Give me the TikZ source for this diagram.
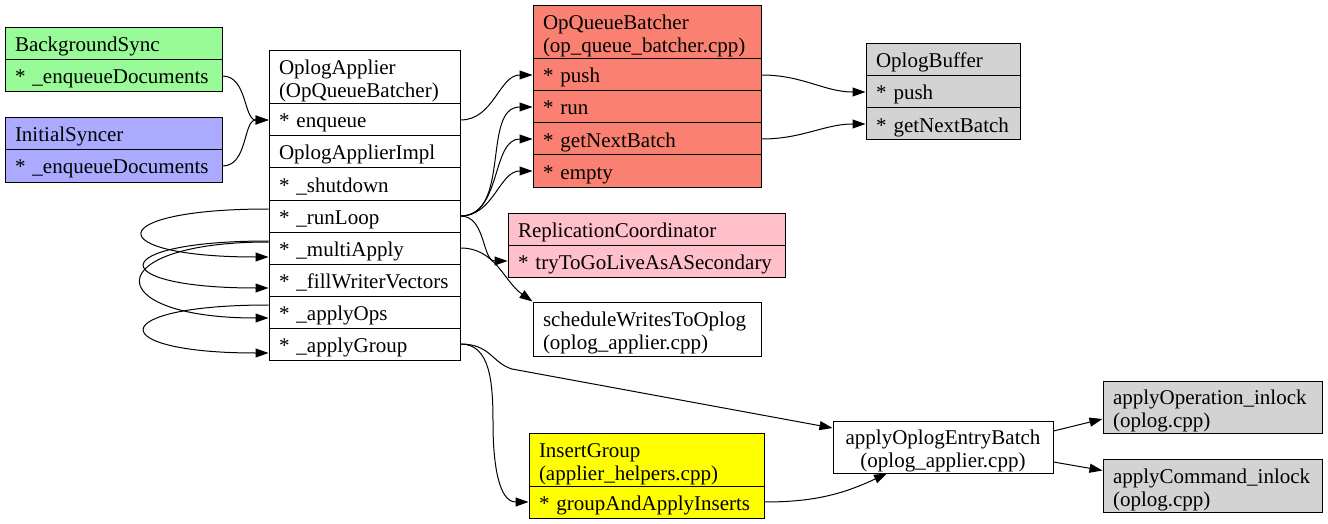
\documentclass[tikz,border=0pt]{standalone}
\usepackage{fontspec}
\setmainfont{Liberation Serif}
\usepackage{xcolor}
\usetikzlibrary{arrows.meta}

\definecolor{syncgreen}{HTML}{98FB98}
\definecolor{syncblue}{HTML}{AAAAFF}
\definecolor{batchred}{HTML}{FA8072}
\definecolor{bufgray}{HTML}{D3D3D3}
\definecolor{coordpink}{HTML}{FFC0CB}
\definecolor{groupyellow}{HTML}{FFFF00}

\begin{document}
\begin{tikzpicture}[x=1pt, y=-1pt,
    rec/.style={draw, line width=1pt, inner sep=0pt, minimum height=32pt,
      align=left, font=\fontsize{21}{23}\selectfont, text height=20.5pt, text depth=4.5pt},
    twoline/.style={minimum height=53pt, text height=23pt, text depth=28pt},
    syncrec/.style={rec, minimum width=217pt, text width=197pt},
    applrec/.style={rec, minimum width=191pt, text width=171pt},
    batchrec/.style={rec, fill=batchred, minimum width=228pt, text width=208pt},
    bufrec/.style={rec, fill=bufgray, minimum width=154pt, text width=134pt},
    coordrec/.style={rec, fill=coordpink, minimum width=277pt, text width=257pt},
    grouprec/.style={rec, fill=groupyellow, minimum width=235pt, text width=215pt},
    inlockrec/.style={rec, twoline, fill=bufgray, minimum width=219pt, text width=199pt},
    call/.style={-{Triangle[length=13pt, width=9pt]}, line width=1pt}]
  \useasboundingbox (0,0) rectangle (1328,524);

  % Callers
  \node[syncrec, fill=syncgreen] (bs) at (113.5,44) {BackgroundSync};
  \node[syncrec, fill=syncgreen] (bsenq) at (113.5,76) {* \_enqueueDocuments};
  \node[syncrec, fill=syncblue] (is) at (113.5,134) {InitialSyncer};
  \node[syncrec, fill=syncblue] (isenq) at (113.5,166) {* \_enqueueDocuments};

  % OplogApplier / OplogApplierImpl
  \node[applrec, twoline] (oa) at (364.5,77.5) {OplogApplier\\(OpQueueBatcher)};
  \node[applrec] (enq) at (364.5,120) {* enqueue};
  \node[applrec] (impl) at (364.5,152) {OplogApplierImpl};
  \node[applrec] (shut) at (364.5,184) {* \_shutdown};
  \node[applrec] (rl) at (364.5,216) {* \_runLoop};
  \node[applrec] (ma) at (364.5,248) {* \_multiApply};
  \node[applrec] (fwv) at (364.5,280) {* \_fillWriterVectors};
  \node[applrec] (ops) at (364.5,312) {* \_applyOps};
  \node[applrec] (ag) at (364.5,344) {* \_applyGroup};

  % OpQueueBatcher
  \node[batchrec, twoline] (oqb) at (647,32.5) {OpQueueBatcher\\(op\_queue\_batcher.cpp)};
  \node[batchrec] (oqbpush) at (647,75) {* push};
  \node[batchrec] (oqbrun) at (647,107) {* run};
  \node[batchrec] (oqbnext) at (647,139) {* getNextBatch};
  \node[batchrec] (oqbempty) at (647,171) {* empty};

  % OplogBuffer
  \node[bufrec] (buf) at (943,60) {OplogBuffer};
  \node[bufrec] (bufpush) at (943,92) {* push};
  \node[bufrec] (bufnext) at (943,124) {* getNextBatch};

  % ReplicationCoordinator and oplog writer
  \node[coordrec] (rc) at (646.5,229) {ReplicationCoordinator};
  \node[coordrec] (rcgo) at (646.5,261) {* tryToGoLiveAsASecondary};
  \node[rec, twoline, minimum width=228pt, text width=208pt, minimum height=54pt] (sw) at (647,329)
    {scheduleWritesToOplog\\(oplog\_applier.cpp)};

  % InsertGroup
  \node[grouprec, twoline] (ig) at (646.5,459.5) {InsertGroup\\(applier\_helpers.cpp)};
  \node[grouprec] (igapply) at (646.5,502) {* groupAndApplyInserts};

  % Entry batch and oplog.cpp
  \node[rec, twoline, align=center, text width=210pt, minimum width=220pt, minimum height=52pt] (aoeb) at (943,447)
    {applyOplogEntryBatch\\(oplog\_applier.cpp)};
  \node[inlockrec, minimum height=52pt] (aop) at (1212.5,407) {applyOperation\_inlock\\(oplog.cpp)};
  \node[inlockrec] (acmd) at (1212.5,485.5) {applyCommand\_inlock\\(oplog.cpp)};

  % Bend points
  \coordinate (agbend) at (512,369);
  \coordinate (igdrop) at (493,423);

  % Calls into enqueue
  \draw[call] (bsenq.east) to[out=0, in=180] (enq.west);
  \draw[call] (isenq.east) to[out=0, in=180] (enq.west);
  \draw[call] (enq.east) to[out=0, in=180] (oqbpush.west);

  % _runLoop fan-out
  \draw[call] (rl.east) to[out=0, in=180] (oqbrun.west);
  \draw[call] (rl.east) to[out=0, in=180] (oqbnext.west);
  \draw[call] (rl.east) to[out=0, in=180] (oqbempty.west);
  \draw[call] (rl.east) to[out=0, in=180] (rcgo.west);
  \draw[call] (ma.east) to[out=0, in=145] (sw.north west);

  % Self calls on the left
  \draw[call] ([yshift=7pt]rl.west) .. controls +(-168,0) and +(-168,0) .. ([yshift=-9pt]ma.west);
  \draw[call] ([yshift=7pt]ma.west) .. controls +(-165,0) and +(-165,0) .. ([yshift=-8pt]fwv.west);
  \draw[call] ([yshift=6pt]ma.west) .. controls +(-170,0) and +(-170,0) .. ([yshift=-6pt]ops.west);
  \draw[call] ([yshift=7pt]ops.west) .. controls +(-165,0) and +(-165,0) .. ([yshift=-9pt]ag.west);

  % OpQueueBatcher -> OplogBuffer
  \draw[call] (oqbpush.east) to[out=0, in=180] (bufpush.west);
  \draw[call] (oqbnext.east) to[out=0, in=180] (bufnext.west);

  % _applyGroup
  \draw[call] (ag.east) .. controls +(30,0) and +(-20,-6) .. (agbend) -- ([yshift=19pt]aoeb.west);
  \draw[call] (ag.east) .. controls +(30,0) and +(0,-40) .. (igdrop)
    .. controls +(0,40) and +(-30,0) .. (igapply.west);
  \draw[call] (igapply.east) to[out=0, in=205] ([xshift=-56pt]aoeb.south);

  % applyOplogEntryBatch -> oplog.cpp
  \draw[call] ([yshift=16pt]aoeb.east) -- ([yshift=-12pt]aop.west);
  \draw[call] ([yshift=-15pt]aoeb.east) -- ([yshift=15pt]acmd.west);
\end{tikzpicture}
\end{document}
